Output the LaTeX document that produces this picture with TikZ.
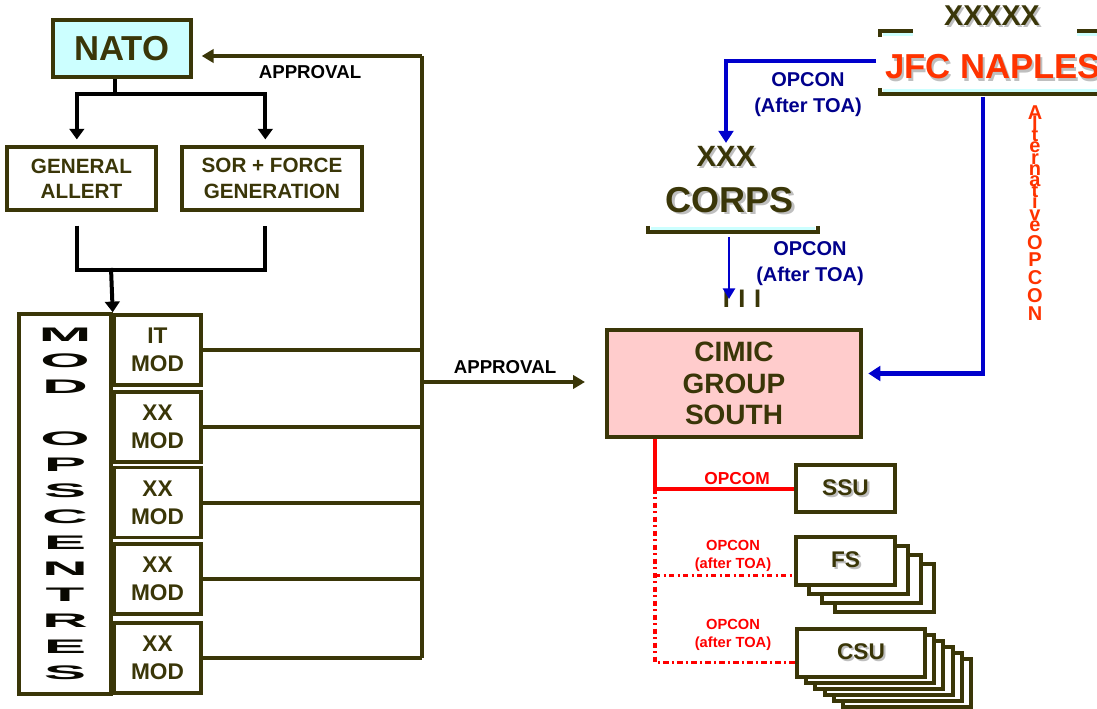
\documentclass[tikz,border=0pt]{standalone}
\usepackage{fontspec}
\setmainfont{Liberation Sans}
\usepackage{graphicx}
\usepackage{xcolor}
\usepackage{tikz}
\usetikzlibrary{arrows.meta,positioning}

\definecolor{unitolive}{RGB}{58,54,8}
\definecolor{natocyan}{RGB}{204,255,255}
\definecolor{cimicpink}{RGB}{255,204,204}
\definecolor{opconblue}{RGB}{0,0,204}
\definecolor{opcondark}{RGB}{0,0,140}
\definecolor{jfcred}{RGB}{255,51,0}
\definecolor{opred}{RGB}{255,0,0}

\newcommand{\shadowed}[1]{\makebox[0pt][l]{\kern1.6pt\raisebox{-1.6pt}{\color{black!25}#1}}#1}
\newcommand{\opsletter}[1]{\scalebox{3.4}[1.05]{#1}}
\newcommand{\altfont}{\bfseries\fontsize{15}{8.4}\selectfont\setlength{\lineskiplimit}{-100pt}}

\begin{document}
\begin{tikzpicture}[
    x=0.75pt,y=-0.75pt,
    box/.style={draw=unitolive,line width=2.6pt,fill=white,align=center,
        text=unitolive,font=\bfseries\fontsize{15.5}{19}\selectfont,inner sep=2pt},
    modbox/.style={box,minimum width=65pt,minimum height=52.5pt,
        font=\bfseries\fontsize{17}{21}\selectfont},
    unitbox/.style={box,line width=3pt,minimum height=35.5pt,
        font=\bfseries\fontsize{17}{20}\selectfont},
    approvaltext/.style={font=\bfseries\fontsize{14}{17}\selectfont},
    echelon/.style={text=unitolive,inner sep=2pt},
    fork/.style={draw=black,line width=3pt},
    forkarrow/.style={fork,-{Triangle[width=11pt,length=8pt]}},
    bus/.style={draw=unitolive,line width=2.3pt},
    approval/.style={bus,-{Triangle[width=10pt,length=9pt]}},
    opcon/.style={draw=opconblue,line width=3pt,-{Triangle[width=11pt,length=9pt]}},
    opcontext/.style={text=opcondark,align=center,font=\bfseries\fontsize{15}{19.5}\selectfont},
    unitframe/.style={draw=unitolive,line width=3pt},
    frameshade/.style={draw=natocyan,line width=2pt},
    opcom/.style={draw=opred,line width=3pt},
    opconred/.style={draw=opred,line width=2.6pt,dash pattern=on 4pt off 2.5pt on 1.5pt off 2.5pt},
    redtext/.style={text=opred,align=center,font=\bfseries\fontsize{11}{13.5}\selectfont}
]
\useasboundingbox (0,0) rectangle (1097,709);

\node[box,fill=natocyan,line width=3pt,minimum width=103.5pt,minimum height=43pt,
    font=\bfseries\fontsize{26}{30}\selectfont] (nato) at (122,48.5) {NATO};
\node[box,minimum width=112pt,minimum height=47pt] (allert) at (81.5,178.5) {GENERAL\\ALLERT};
\node[box,minimum width=135pt,minimum height=47pt] (sor) at (272,178.5) {SOR + FORCE\\GENERATION};
\node[box,minimum width=69pt,minimum height=285pt,text=black!85!unitolive,
    font=\bfseries\fontsize{14}{19.5}\selectfont] (ops) at (65,504)
    {\opsletter{M}\\\opsletter{O}\\\opsletter{D}\\\mbox{}\\\opsletter{O}\\\opsletter{P}\\
     \opsletter{S}\\\opsletter{C}\\\opsletter{E}\\\opsletter{N}\\\opsletter{T}\\
     \opsletter{R}\\\opsletter{E}\\\opsletter{S}};
\foreach \y/\cat [count=\i] in {350/IT,427/XX,502.5/XX,579/XX,658/XX}
    \node[modbox] (mod\i) at (157.5,\y) {\cat\\MOD};
\node[approvaltext] (appr1) at (310,72) {APPROVAL};
\node[approvaltext] (appr2) at (505,367) {APPROVAL};

\node[echelon,font=\bfseries\fontsize{21.5}{24}\selectfont] (army) at (992,17) {\shadowed{XXXXX}};
\node[anchor=base west,text=jfcred,inner sep=0pt,
    font=\bfseries\fontsize{26}{28}\selectfont] (jfc) at (885,79) {\shadowed{JFC NAPLES}};
\node[echelon,font=\bfseries\fontsize{22}{24}\selectfont] (corpsxxx) at (726,157) {\shadowed{XXX}};
\node[echelon,font=\bfseries\fontsize{27}{30}\selectfont] (corps) at (730,201) {\shadowed{CORPS}};
\node[opcontext] (opcon1) at (808,95) {OPCON\\(After TOA)};
\node[opcontext] (opcon2) at (810,264) {OPCON\\(After TOA)};
\node[echelon,inner sep=0pt,font=\bfseries\fontsize{19}{19}\selectfont] (regt) at (742,299)
    {I\hspace{6.5pt}I\hspace{6.5pt}I};
\node[box,fill=cimicpink,line width=3pt,minimum width=190.5pt,minimum height=80pt,
    font=\bfseries\fontsize{21}{23.5}\selectfont] (cimic) at (734,383.5) {CIMIC\\GROUP\\SOUTH};
\node[text=jfcred,align=center,inner sep=0pt,font=\altfont] (altopcon) at (1035,213)
    {A\\l\\t\\e\\r\\n\\a\\t\\i\\v\\e\\[5pt]O\\[5pt]P\\[5pt]C\\[5pt]O\\[5pt]N};

\node[unitbox,minimum width=74pt] (ssu) at (845.5,488.5) {\shadowed{SSU}};
\foreach \i in {3,2,1}
    \node[unitbox,minimum width=74pt,minimum height=36pt] (fs\i) at (845.5+13*\i,561+9*\i) {};
\node[unitbox,minimum width=74pt,minimum height=36pt] (fs) at (845.5,561) {\shadowed{FS}};
\foreach \i in {5,4,3,2,1}
    \node[unitbox,minimum width=96pt,minimum height=36pt] (csu\i) at (861+9.2*\i,653+6*\i) {};
\node[unitbox,minimum width=96pt,minimum height=36pt] (csu) at (861,653) {\shadowed{CSU}};
\node[redtext,font=\bfseries\fontsize{13}{15}\selectfont] (opcom) at (737,479) {OPCOM};
\node[redtext] (opconfs) at (733,556) {OPCON\\(after TOA)};
\node[redtext] (opconcsu) at (733,635) {OPCON\\(after TOA)};

\draw[unitframe] (880,37) -- (880,31) -- (913,31);
\draw[unitframe] (1077,31) -- (1100,31);
\draw[unitframe] (880,88) -- (880,94) -- (1100,94);
\draw[frameshade] (883,34.5) -- (913,34.5) (1077,34.5) -- (1100,34.5) (883,90.5) -- (1100,90.5);
\draw[unitframe] (648,226) -- (648,232) -- (818,232) -- (818,226);
\draw[frameshade] (651,228.5) -- (815,228.5);

\coordinate (bustop) at (422,56);
\coordinate (busmid) at (422,382);
\coordinate (merge) at (111,268);
\coordinate (jfcwest) at (876,61);
\coordinate (jfcbase) at (983,97);
\coordinate (corpsbase) at (729,237);
\coordinate (trunk) at ([xshift=37.5pt]cimic.south west);
\coordinate (fsjoin) at ([yshift=-11pt]fs.west);

\draw[fork] ([xshift=-5pt]nato.south) -- ++(0,15) coordinate (split);
\draw[forkarrow] (split) -| ([xshift=-3.5pt,yshift=4.5pt]allert.north);
\draw[forkarrow] (split) -| ([xshift=-5pt,yshift=4.5pt]sor.north);
\draw[fork] ([xshift=-3.5pt,yshift=-10.5pt]allert.south) -- ++(0,44) coordinate (mergeL)
    -- ([xshift=-5pt]mergeL -| sor.south) -- ([xshift=-5pt,yshift=-10.5pt]sor.south);
\draw[forkarrow] (merge) -- (ops.north east);
\draw[bus] (bustop) -- (bustop |- mod5.east);
\foreach \i in {1,...,5}
    \draw[bus,line width=3pt] (mod\i.east) -- (mod\i.east -| bustop);
\draw[approval] (bustop) -- ([xshift=6.5pt]bustop -| nato.east);
\draw[approval] (busmid) -- ([xshift=-15pt]busmid -| cimic.west);

\draw[opcon] (jfcwest) -| (corpsxxx.north);
\draw[opcon,line width=2pt,-{Triangle[width=9pt,length=8pt]}] (corpsbase) -- (corpsbase |- regt);
\draw[opcon,line width=3.5pt] (jfcbase) |- ([xshift=4pt,yshift=7.5pt]cimic.east);

\draw[opcom] (trunk) |- (ssu.west);
\draw[opconred] (trunk |- ssu.west) |- ([yshift=-7pt]csu.west);
\draw[opconred] (trunk |- fsjoin) -- (fsjoin);
\end{tikzpicture}
\end{document}
